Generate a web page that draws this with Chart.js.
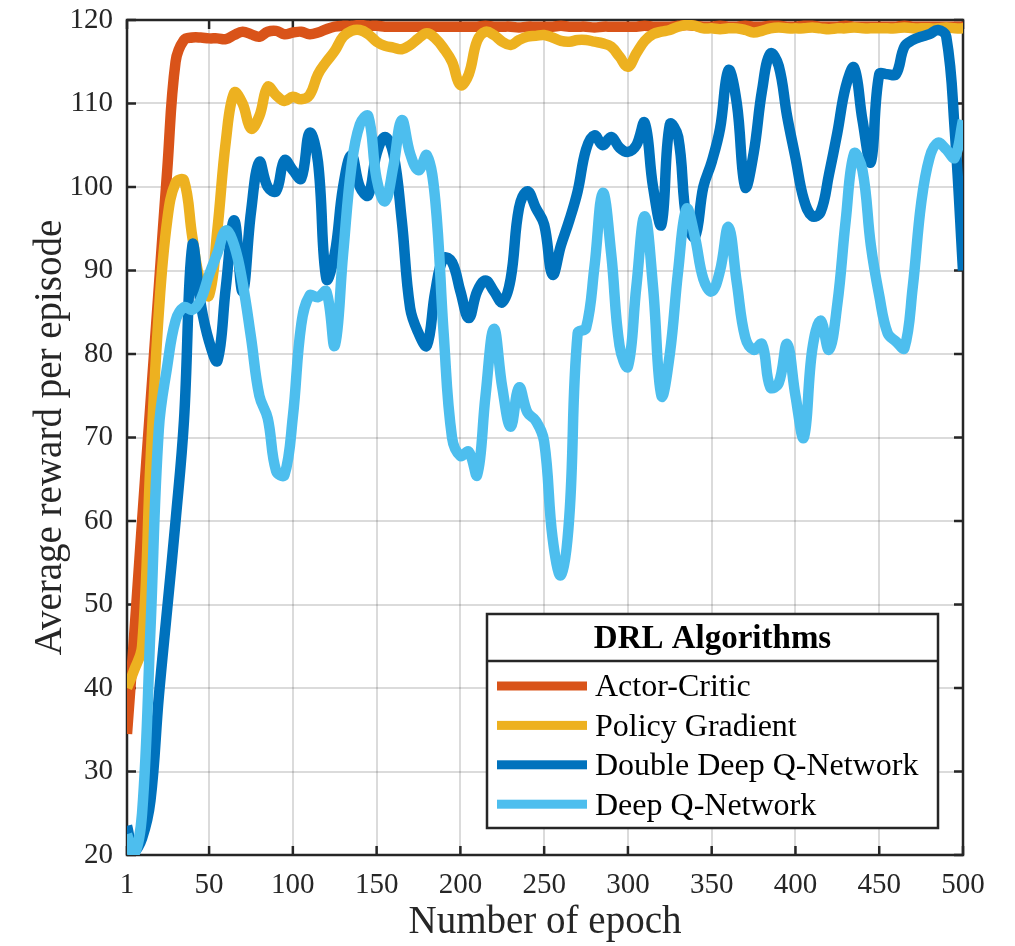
<!DOCTYPE html>
<html>
<head>
<meta charset="utf-8">
<script src="https://cdn.jsdelivr.net/npm/chart.js@4"></script>
<style>
  html, body { margin: 0; padding: 0; background: #fff; }
  #wrap { width: 1015px; height: 946px; }
</style>
</head>
<body>
<div id="wrap"><canvas id="chart" width="1015" height="946"></canvas></div>
<script>
const epochs = [1,5,10,15,20,25,30,35,40,45,50,55,60,65,70,75,80,85,90,95,100,105,110,115,120,125,130,135,140,145,150,155,160,165,170,175,180,185,190,195,200,205,210,215,220,225,230,235,240,245,250,255,260,265,270,275,280,285,290,295,300,305,310,315,320,325,330,335,340,345,350,355,360,365,370,375,380,385,390,395,400,405,410,415,420,425,430,435,440,445,450,455,460,465,470,475,480,485,490,495,500];

const actorCritic = [34.5,45.5,60,74,88,102,115,117.6,117.9,117.9,117.8,117.8,117.7,118.2,118.6,118.3,118.0,118.6,118.7,118.3,118.5,118.6,118.3,118.5,118.9,119.2,119.3,119.3,119.4,119.3,119.3,119.2,119.2,119.2,119.2,119.2,119.2,119.2,119.2,119.2,119.2,119.2,119.2,119.3,119.2,119.2,119.2,119.1,119.2,119.2,119.2,119.2,119.3,119.2,119.2,119.2,119.1,119.2,119.2,119.2,119.2,119.2,119.3,119.2,119.2,119.2,119.3,119.4,119.3,119.2,119.2,119.3,119.2,119.2,119.3,119.2,119.2,119.3,119.3,119.2,119.2,119.3,119.3,119.2,119.2,119.2,119.3,119.2,119.2,119.2,119.2,119.2,119.2,119.3,119.2,119.2,119.2,119.2,119.2,119.2,119.2];

const policyGradient = [40,42,45,67,85,96,100.5,100.8,94,88.5,87,95,105.5,111.3,110,107,108.5,112,111,110.3,110.8,110.5,111,113.5,115,116.3,118,118.7,118.8,118.3,117.4,116.9,116.7,116.5,117,117.8,118.4,117.8,116.6,115,112.2,113.5,117.5,118.6,118.2,117.4,117,117.6,118,118.1,118.2,117.9,117.5,117.4,117.6,117.6,117.4,117.2,116.8,115.6,114.4,116,117.5,118.3,118.6,118.8,119.2,119.4,119.3,119.0,119.0,118.9,119.0,119.0,118.8,118.5,118.7,119.0,119.1,119.0,119.0,119.0,119.1,119.0,118.9,119.0,119.0,119.1,119.0,119.0,119.0,119.0,119.0,119.1,119.0,119.0,119.0,119.0,119.1,119.0,119.0];

const doubleDqn = [23.5,20.5,22,26.5,39,49.5,60,72,93,86,81.5,79.2,88,96,87.5,97,103,100,99.5,103.2,102,101,106.5,103,89,92,100,103.8,100,99,104,106,104,96,85.5,82.5,81,87.5,91.5,91,87.5,84.3,87.5,88.8,87.5,86.2,89,97.5,99.5,97.5,95.5,89.5,93,96,99.5,104.5,106.2,105,106,104.7,104.2,105,107.7,100,95.5,107.5,106,96,94,100,103,107,114,110,100,104,111.5,116,114.5,108.5,103.5,98.5,96.5,97,101.5,106.5,112,114.3,108,103,113.5,113.5,113.5,116.8,117.6,118,118.3,118.8,118,107,90];

const dqn = [22.5,20,25,47,71,78.5,84,85.6,85.3,86.5,89.5,92.1,94.8,93,88.5,82,75,72.3,66,65.5,72.5,83.5,87,86.8,87.5,81,92,102.5,107.5,108.5,101,98.3,102.5,108,104,102,103.8,98.4,82.5,70,67.8,68.3,65.5,75,83,76,71.3,76,73,72,69.5,58,53.5,60.5,82.5,83.1,90.4,99.3,92,81,78.5,88,96.5,88,75,80,90,97.4,94,89,87.5,90,95.2,88.5,82,80.5,81.2,76,76.5,81.2,75,70,80.5,84,80.5,86,96,104,102,93,87,82.5,81.5,80.7,88,98,103.5,105.3,104.5,103.5,108];

const seriesNames = ["Actor-Critic", "Policy Gradient", "Double Deep Q-Network", "Deep Q-Network"];
const seriesColors = ["#D95319", "#EDB120", "#0072BD", "#4DBEEE"];
const xTicks = [1, 50, 100, 150, 200, 250, 300, 350, 400, 450, 500];

const serif = '"Liberation Serif", "Times New Roman", serif';
const ink = "#262626";

function pts(values) {
  return values.map((v, i) => ({ x: epochs[i], y: v }));
}

// box, inward ticks on all four sides and the titled legend
const frame = {
  id: "frame",
  beforeDatasetsDraw(chart) {
    const { ctx, chartArea: a, scales } = chart;
    const len = 9;
    ctx.save();
    ctx.strokeStyle = ink;
    ctx.lineWidth = 2.5;
    ctx.beginPath();
    scales.x.ticks.forEach((t) => {
      const px = scales.x.getPixelForValue(t.value);
      ctx.moveTo(px, a.bottom);
      ctx.lineTo(px, a.bottom - len);
      ctx.moveTo(px, a.top);
      ctx.lineTo(px, a.top + len);
    });
    scales.y.ticks.forEach((t) => {
      const py = scales.y.getPixelForValue(t.value);
      ctx.moveTo(a.left, py);
      ctx.lineTo(a.left + len, py);
      ctx.moveTo(a.right, py);
      ctx.lineTo(a.right - len, py);
    });
    ctx.stroke();
    ctx.strokeRect(a.left, a.top, a.width, a.height);
    ctx.restore();
  },
  afterDraw(chart) {
    const { ctx, chartArea: a } = chart;
    const w = 451, h = 214;
    const x0 = a.right - 25 - w;
    const y0 = a.bottom - 27 - h;
    ctx.save();
    ctx.fillStyle = "#fff";
    ctx.fillRect(x0, y0, w, h);
    ctx.strokeStyle = ink;
    ctx.lineWidth = 2.5;
    ctx.strokeRect(x0, y0, w, h);
    ctx.beginPath();
    ctx.moveTo(x0, y0 + 47);
    ctx.lineTo(x0 + w, y0 + 47);
    ctx.stroke();

    ctx.fillStyle = "#000";
    ctx.textBaseline = "middle";
    ctx.textAlign = "center";
    ctx.font = "bold 33px " + serif;
    ctx.fillText("DRL Algorithms", x0 + w / 2, y0 + 25);

    ctx.textAlign = "left";
    ctx.font = "32px " + serif;
    chart.data.datasets.forEach((ds, i) => {
      const yy = y0 + 72 + i * 39.4;
      ctx.fillStyle = ds.borderColor;
      ctx.fillRect(x0 + 10, yy - 4.5, 90, 9);
      ctx.fillStyle = "#000";
      ctx.fillText(ds.label, x0 + 108, yy + 2);
    });
    ctx.restore();
  },
};

const datasets = [actorCritic, policyGradient, doubleDqn, dqn].map((vals, i) => ({
  label: seriesNames[i],
  data: pts(vals),
  borderColor: seriesColors[i],
  backgroundColor: seriesColors[i],
  borderWidth: 10.5,
  pointRadius: 0,
  tension: 0.4,
  borderJoinStyle: "round",
  order: 4 - i,
}));

new Chart(document.getElementById("chart"), {
  type: "line",
  data: { datasets },
  options: {
    responsive: false,
    animation: false,
    layout: { padding: { top: 20, right: 52, bottom: 0, left: 0 } },
    plugins: { legend: { display: false }, tooltip: { enabled: false } },
    scales: {
      x: {
        type: "linear",
        min: 1,
        max: 500,
        afterBuildTicks: (s) => {
          s.ticks = xTicks.map((v) => ({ value: v }));
        },
        afterFit: (s) => {
          s.height = 91;
          s.paddingLeft = 0;
          s.paddingRight = 0;
        },
        grid: { color: "rgba(0,0,0,0.14)", lineWidth: 2, drawTicks: false },
        border: { display: false },
        ticks: {
          padding: 13,
          color: ink,
          maxRotation: 0,
          autoSkip: false,
          font: { family: serif, size: 29 },
          callback: (v) => String(v),
        },
        title: {
          display: true,
          text: "Number of epoch",
          color: ink,
          font: { family: serif, size: 39 },
          padding: { top: 0, bottom: 0 },
        },
      },
      y: {
        min: 20,
        max: 120,
        afterFit: (s) => {
          s.width = 127;
          s.paddingTop = 0;
          s.paddingBottom = 0;
        },
        grid: { color: "rgba(0,0,0,0.14)", lineWidth: 2, drawTicks: false },
        border: { display: false },
        ticks: {
          stepSize: 10,
          padding: 14,
          color: ink,
          font: { family: serif, size: 29 },
        },
        title: {
          display: true,
          text: "Average reward per episode",
          color: ink,
          font: { family: serif, size: 39 },
          padding: { top: 27, bottom: 0 },
        },
      },
    },
  },
  plugins: [frame],
});
</script>
</body>
</html>
